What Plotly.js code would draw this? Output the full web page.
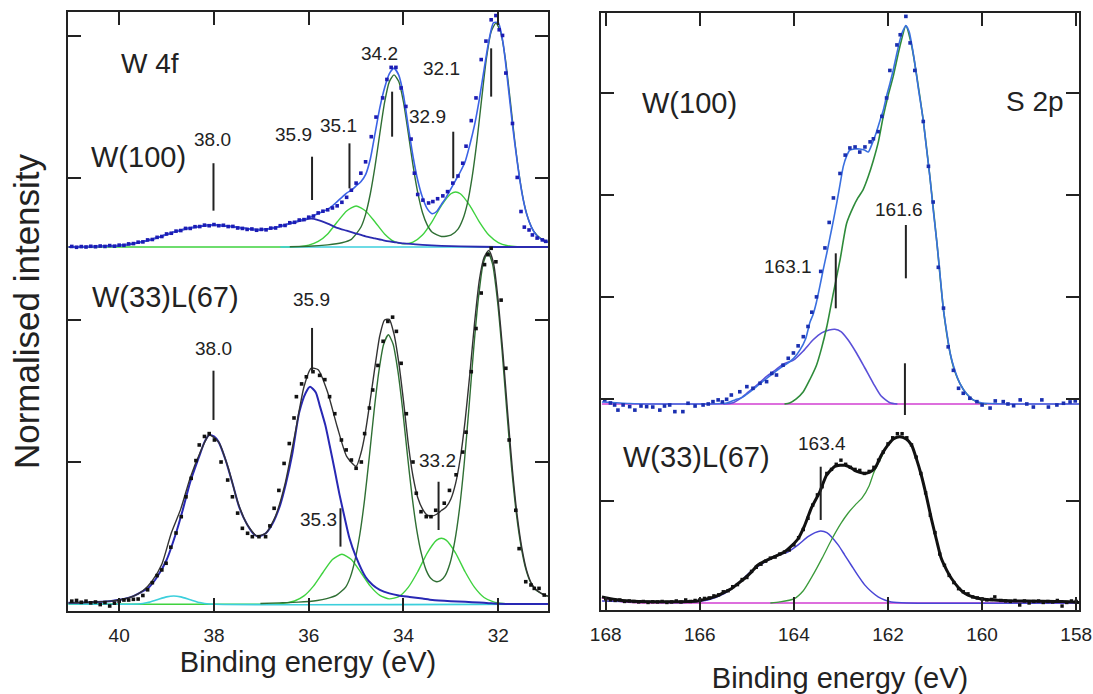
<!DOCTYPE html>
<html><head><meta charset="utf-8">
<script src="https://cdn.plot.ly/plotly-3.0.1.min.js"></script>
<style>html,body{margin:0;padding:0;background:#fff}#g{width:1093px;height:694px}</style>
</head><body><div id="g"></div>
<script>
// ---------------- W 4f, W(100) (values relative to its own baseline) ----------------
const ltDotsX=[41.0,40.9,40.8,40.7,40.6,40.5,40.4,40.3,40.2,40.1,40.0,39.9,39.8,39.7,39.6,39.5,39.4,39.3,39.2,39.1,39.0,38.9,38.8,38.7,38.6,38.5,38.4,38.3,38.2,38.1,38.0,37.9,37.8,37.7,37.6,37.5,37.4,37.3,37.2,37.1,37.0,36.9,36.8,36.7,36.6,36.5,36.4,36.3,36.2,36.1,36.0,35.9,35.8,35.7,35.6,35.5,35.4,35.3,35.2,35.1,35.0,34.9,34.8,34.68,34.58,34.44,34.35,34.26,34.16,34.05,33.95,33.84,33.77,33.7,33.59,33.47,33.38,33.28,33.17,33.07,32.96,32.85,32.75,32.68,32.57,32.47,32.36,32.26,32.15,32.05,31.98,31.91,31.84,31.7,31.6,31.52,31.45,31.35,31.28,31.18,31.07,31.0];
const ltDotsY=[.004,-.002,.003,0,.005,.002,.007,.004,.010,.006,.013,.012,.022,.024,.034,.036,.050,.053,.068,.074,.092,.097,.112,.116,.131,.131,.143,.144,.154,.150,.158,.150,.153,.144,.145,.134,.131,.124,.127,.118,.124,.121,.133,.134,.150,.152,.171,.174,.190,.193,.210,.218,.240,.252,.262,.275,.29,.315,.35,.40,.45,.52,.60,.777,.915,1.05,1.18,1.265,1.265,1.12,.99,.76,.52,.37,.33,.31,.32,.34,.36,.39,.45,.50,.59,.71,.89,1.05,1.32,1.45,1.60,1.63,1.53,1.49,1.225,.87,.49,.25,.14,.12,.085,.063,.05,.04];
const ltEnvX=[41.0,40.9,40.8,40.7,40.6,40.5,40.4,40.3,40.2,40.1,40.0,39.9,39.8,39.7,39.6,39.5,39.4,39.3,39.2,39.1,39.0,38.9,38.8,38.7,38.6,38.5,38.4,38.3,38.2,38.1,38.0,37.9,37.8,37.7,37.6,37.5,37.4,37.3,37.2,37.1,37.0,36.9,36.8,36.7,36.6,36.5,36.4,36.3,36.2,36.1,36.0,35.9,35.8,35.7,35.6,35.5,35.4,35.3,35.2,35.1,35.0,34.9,34.8,34.7,34.6,34.5,34.4,34.3,34.2,34.1,34.0,33.9,33.8,33.7,33.6,33.5,33.4,33.3,33.2,33.1,33.0,32.9,32.8,32.7,32.6,32.5,32.4,32.3,32.2,32.1,32.0,31.9,31.8,31.7,31.6,31.5,31.4,31.3,31.2,31.1,31.0,30.95];
const ltEnvY=[0,0,0,.002,.003,.004,.005,.006,.007,.009,.011,.015,.02,.025,.03,.038,.046,.055,.065,.077,.088,.099,.11,.118,.127,.134,.14,.146,.151,.154,.155,.154,.151,.147,.143,.138,.133,.128,.125,.122,.122,.125,.13,.138,.146,.155,.167,.176,.186,.196,.206,.22,.235,.25,.267,.29,.32,.35,.38,.40,.43,.46,.51,.62,.80,.98,1.12,1.22,1.26,1.21,1.07,.85,.64,.47,.35,.27,.235,.25,.30,.35,.41,.47,.53,.60,.72,.86,1.04,1.25,1.45,1.58,1.58,1.44,1.16,.86,.60,.38,.23,.14,.085,.055,.037,.034];
const ltBlueX=[41.07,40.6,40.2,40.0,39.6,39.2,38.8,38.4,38.0,37.6,37.2,37.0,36.7,36.4,36.1,35.95,35.8,35.6,35.4,35.2,35.0,34.8,34.6,34.4,34.2,34.0,33.6,33.2,32.8,32.0,30.95];
const ltBlueY=[0,.003,.007,.01,.03,.065,.11,.14,.155,.143,.125,.122,.138,.165,.19,.20,.19,.165,.135,.115,.095,.075,.06,.045,.035,.025,.015,.008,.004,0,0];
const ltDarkGreenX=[36.4,36.0,35.6,35.3,35.1,34.9,34.8,34.7,34.6,34.5,34.4,34.3,34.2,34.1,34.0,33.9,33.8,33.7,33.6,33.5,33.4,33.2,33.0,32.85,32.75,32.65,32.55,32.45,32.35,32.25,32.15,32.05,31.95,31.85,31.75,31.65,31.55,31.45,31.35,31.25,31.1,30.95];
const ltDarkGreenY=[.002,.005,.015,.030,.054,.139,.230,.375,.569,.799,1.017,1.163,1.212,1.165,1.021,.804,.576,.384,.243,.156,.106,.074,.083,.126,.193,.309,.496,.746,1.045,1.328,1.516,1.577,1.514,1.325,1.041,.741,.489,.300,.181,.110,.060,.038];
const ltLightGreenX=[41.07,36.4,36.2,36.0,35.8,35.6,35.4,35.2,35.0,34.8,34.6,34.4,34.2,34.0,33.8,33.6,33.4,33.2,33.0,32.9,32.8,32.6,32.4,32.2,32.0,31.8,31.6,30.95];
const ltLightGreenY=[0,0,.003,.013,.039,.092,.176,.254,.289,.254,.176,.092,.039,.022,.034,.084,.177,.292,.375,.387,.375,.292,.177,.084,.031,.009,.002,0];
const ltCyanX=[36.6,30.95];
const ltCyanY=[0,0];

// ---------------- W 4f, W(33)L(67) ----------------
const lbDotsX=[41.0,40.9,40.8,40.7,40.6,40.5,40.4,40.3,40.2,40.1,40.0,39.9,39.8,39.7,39.6,39.5,39.4,39.3,39.2,39.1,39.01,38.91,38.8,38.69,38.59,38.48,38.38,38.31,38.2,38.1,37.99,37.85,37.71,37.61,37.5,37.4,37.29,37.19,37.05,36.91,36.82,36.73,36.63,36.52,36.41,36.31,36.26,36.15,36.05,35.91,35.77,35.66,35.56,35.45,35.31,35.21,35.1,35.0,34.89,34.82,34.72,34.65,34.54,34.43,34.33,34.23,34.15,34.05,33.94,33.8,33.73,33.63,33.52,33.42,33.32,33.14,33.03,32.89,32.75,32.68,32.57,32.47,32.36,32.29,32.22,32.15,32.05,31.94,31.84,31.77,31.63,31.56,31.42,31.31,31.24,31.14,31.03];
const lbDotsY=[.02,.025,.012,.02,.008,.014,-.004,.01,-.014,.006,.02,.028,.028,.033,.035,.06,.10,.15,.20,.24,.287,.40,.50,.615,.755,.885,1.01,1.12,1.18,1.20,1.155,1.0,.873,.755,.64,.533,.498,.474,.474,.474,.55,.674,.80,.99,1.13,1.31,1.46,1.55,1.60,1.636,1.61,1.58,1.46,1.34,1.155,1.085,1.014,.956,1.0,1.20,1.38,1.507,1.68,1.85,1.99,2.02,1.92,1.695,1.34,1.0,.78,.65,.615,.615,.66,.71,.80,.91,1.07,1.21,1.636,1.94,2.19,2.39,2.46,2.505,2.41,2.14,1.66,1.155,.66,.39,.157,.134,.11,.11,.063];
const lbEnvX=[41.07,40.6,40.2,39.9,39.7,39.5,39.3,39.1,38.9,38.7,38.5,38.3,38.1,37.9,37.7,37.5,37.3,37.1,36.9,36.7,36.5,36.3,36.1,35.95,35.8,35.6,35.4,35.2,35.0,34.9,34.8,34.7,34.6,34.5,34.4,34.3,34.2,34.1,34.0,33.9,33.8,33.7,33.6,33.5,33.4,33.3,33.2,33.1,33.0,32.9,32.8,32.7,32.6,32.5,32.4,32.3,32.2,32.1,32.0,31.9,31.8,31.7,31.6,31.5,31.4,31.3,31.2,31.1,31.0,30.95];
const lbEnvY=[.008,.012,.02,.035,.055,.093,.165,.28,.50,.67,.89,1.06,1.19,1.14,.96,.72,.56,.48,.50,.62,.845,1.18,1.53,1.66,1.65,1.49,1.25,1.04,.97,1.06,1.22,1.44,1.675,1.89,2.0,2.005,1.90,1.70,1.43,1.13,.90,.75,.67,.626,.62,.632,.658,.683,.74,.85,1.03,1.29,1.62,1.98,2.28,2.44,2.49,2.40,2.13,1.76,1.34,.94,.62,.39,.235,.145,.10,.077,.06,.055];
const lbBlueX=[41.07,40.6,40.2,39.9,39.7,39.5,39.36,39.2,39.0,38.8,38.66,38.5,38.3,38.2,38.1,38.0,37.9,37.75,37.6,37.47,37.3,37.15,37.05,36.9,36.76,36.6,36.48,36.35,36.2,36.06,35.97,35.85,35.77,35.65,35.56,35.45,35.35,35.25,35.14,35.0,34.8,34.65,34.5,34.3,34.1,33.87,33.6,33.39,33.0,32.7,32.4,32.2,32.0,31.5,30.95];
const lbBlueY=[.008,.012,.02,.035,.055,.09,.122,.19,.31,.50,.66,.86,1.05,1.14,1.19,1.18,1.14,1.01,.84,.685,.56,.49,.475,.50,.568,.70,.85,1.05,1.35,1.49,1.53,1.49,1.40,1.26,1.12,.94,.77,.62,.463,.33,.19,.134,.10,.075,.06,.05,.038,.028,.02,.016,.01,.006,.002,0,0];
const lbDarkGreenX=[37.02,36.62,36.22,35.82,35.62,35.42,35.22,35.12,35.02,34.92,34.82,34.72,34.62,34.52,34.42,34.32,34.22,34.12,34.02,33.92,33.82,33.72,33.62,33.52,33.42,33.32,33.22,33.12,33.02,32.92,32.82,32.72,32.62,32.52,32.42,32.32,32.22,32.12,32.02,31.92,31.82,31.72,31.62,31.52,31.42,31.32,31.22,31.12,31.02,30.95];
const lbDarkGreenY=[.004,.008,.013,.025,.038,.060,.119,.191,.314,.493,.739,1.041,1.362,1.637,1.827,1.896,1.831,1.645,1.375,1.058,.761,.521,.351,.237,.179,.158,.164,.200,.285,.438,.667,.984,1.377,1.793,2.150,2.395,2.48,2.393,2.145,1.785,1.359,.963,.642,.408,.247,.153,.104,.079,.062,.055];
const lbLightGreenX=[41.07,36.7,36.5,36.3,36.1,35.9,35.7,35.5,35.3,35.1,34.9,34.7,34.5,34.3,34.1,33.9,33.7,33.5,33.3,33.2,33.1,32.9,32.7,32.5,32.3,32.1,31.9,31.7,30.95];
const lbLightGreenY=[0,.001,.006,.021,.057,.126,.222,.313,.35,.313,.222,.126,.061,.036,.052,.117,.227,.359,.45,.463,.45,.359,.227,.117,.046,.015,.004,.001,0];
const lbCyanX=[41.07,39.6,39.4,39.2,39.0,38.85,38.7,38.5,38.3,38.1,30.95];
const lbCyanY=[0,0,.01,.03,.05,.056,.05,.03,.01,0,0];

// ---------------- S 2p, W(100) (relative to its own baseline) ----------------
const rtDotsX=[168.02,167.9,167.81,167.74,167.63,167.49,167.38,167.25,167.13,167.0,166.85,166.75,166.64,166.53,166.36,166.25,166.1,165.93,165.82,165.72,165.61,165.52,165.43,165.33,165.15,165.0,164.87,164.72,164.58,164.47,164.37,164.23,164.12,164.01,163.91,163.8,163.7,163.62,163.52,163.43,163.34,163.25,163.16,163.02,162.91,162.81,162.70,162.6,162.49,162.38,162.31,162.21,162.13,162.03,161.96,161.81,161.74,161.62,161.53,161.43,161.25,161.14,161.04,160.93,160.82,160.72,160.61,160.50,160.40,160.26,160.11,160.0,159.83,159.72,159.55,159.45,159.33,159.19,159.05,158.91,158.73,158.59,158.41,158.27,158.13,158.02];
const rtDotsY=[.04,.01,-.01,-.06,-.01,-.026,-.06,-.02,-.026,-.03,-.06,-.02,-.01,-.075,-.075,.007,-.02,-.01,0,.023,.04,.02,.046,.088,.12,.17,.154,.203,.219,.30,.284,.38,.448,.50,.57,.66,.76,.90,1.05,1.30,1.53,1.78,2.02,2.26,2.44,2.51,2.52,2.47,2.52,2.57,2.60,2.67,2.82,3.0,3.27,3.52,3.62,3.80,3.54,3.27,2.77,2.33,1.98,1.34,.94,.56,.33,.154,.105,.056,.023,-.01,-.04,.03,.023,0,-.017,.04,0,-.03,.04,-.03,-.01,.007,.02,.03];
const rtEnvX=[168.08,167.5,167.0,166.5,166.0,165.6,165.43,165.25,165.08,164.9,164.72,164.58,164.44,164.3,164.16,164.0,163.87,163.75,163.66,163.59,163.52,163.45,163.38,163.3,163.23,163.16,163.09,163.02,162.95,162.88,162.81,162.7,162.6,162.5,162.42,162.33,162.25,162.17,162.1,162.03,161.96,161.89,161.82,161.75,161.68,161.62,161.55,161.45,161.35,161.25,161.18,161.11,161.04,160.96,160.89,160.82,160.75,160.68,160.58,160.47,160.33,160.19,160.0,159.5,159.0,158.5,157.94];
const rtEnvY=[.02,.005,0,0,0,.003,.01,.04,.07,.13,.20,.25,.30,.35,.39,.45,.53,.64,.80,.88,1.0,1.15,1.31,1.48,1.64,1.80,1.97,2.15,2.33,2.43,2.49,2.50,2.50,2.49,2.47,2.56,2.66,2.78,2.88,3.02,3.14,3.27,3.42,3.56,3.66,3.71,3.65,3.40,3.08,2.78,2.50,2.23,1.91,1.58,1.25,.92,.70,.50,.33,.20,.10,.04,.01,0,0,0,0];
const rtGreenX=[164.2,164.09,163.95,163.8,163.66,163.52,163.41,163.3,163.16,163.02,162.88,162.74,162.64,162.53,162.42,162.31,162.2,162.1,162.0,161.89,161.75,161.62,161.5,161.4,161.25,161.11,160.96,160.82,160.68,160.58,160.47,160.33,160.19,160.05,159.9];
const rtGreenY=[0,.01,.05,.12,.24,.38,.55,.76,1.09,1.41,1.77,1.93,2.02,2.10,2.23,2.39,2.58,2.82,3.02,3.21,3.50,3.706,3.52,3.25,2.78,2.23,1.58,.92,.50,.32,.20,.10,.04,.01,0];
const rtPurpleX=[165.5,165.29,165.15,165.0,164.8,164.58,164.4,164.23,164.01,163.8,163.59,163.4,163.25,163.13,163.0,162.85,162.67,162.5,162.31,162.15,161.96,161.8];
const rtPurpleY=[0,.013,.05,.105,.18,.27,.33,.39,.43,.52,.63,.70,.725,.732,.71,.63,.50,.36,.20,.08,.013,0];
const rtBaseX=[168.08,157.94];
const rtBaseY=[0,0];

// ---------------- S 2p, W(33)L(67) ----------------
const rbDotsX=[168.0,167.9,167.8,167.7,167.6,167.5,167.4,167.3,167.2,167.1,167.0,166.9,166.8,166.7,166.6,166.5,166.4,166.3,166.2,166.1,166.0,165.9,165.8,165.7,165.6,165.5,165.4,165.3,165.2,165.1,165.0,164.9,164.8,164.7,164.6,164.5,164.4,164.3,164.2,164.1,164.0,163.9,163.8,163.7,163.6,163.5,163.4,163.3,163.2,163.1,163.0,162.9,162.8,162.7,162.6,162.5,162.4,162.3,162.2,162.1,162.0,161.9,161.8,161.7,161.6,161.5,161.4,161.3,161.2,161.1,161.0,160.9,160.8,160.7,160.6,160.5,160.4,160.3,160.2,160.1,160.0,159.9,159.8,159.73,159.6,159.5,159.4,159.3,159.2,159.1,159.0,158.9,158.8,158.7,158.6,158.5,158.4,158.3,158.2,158.1,158.0];
const rbDotsY=[.04,.03,.025,.03,.015,.02,.015,.01,.015,.005,.012,.01,.015,.005,.01,.02,.01,.03,.015,.025,.03,.045,.05,.07,.08,.11,.12,.16,.18,.23,.25,.31,.35,.38,.41,.44,.45,.48,.50,.52,.57,.64,.72,.83,.96,1.06,1.14,1.27,1.31,1.36,1.40,1.36,1.33,1.31,1.30,1.27,1.29,1.33,1.40,1.48,1.56,1.62,1.66,1.66,1.62,1.55,1.43,1.27,1.08,.86,.69,.48,.37,.27,.20,.14,.11,.09,.06,.05,.04,.03,.035,.06,.025,.02,.015,.025,-.02,.02,0,.015,.02,.005,.015,.01,.025,-.03,.005,.02,.015];
const rbEnvX=[168.08,167.8,167.5,167.0,166.5,166.2,166.04,165.85,165.69,165.5,165.33,165.19,165.05,164.91,164.77,164.62,164.48,164.34,164.2,164.05,163.91,163.77,163.63,163.45,163.31,163.2,163.13,163.02,162.92,162.8,162.71,162.6,162.5,162.4,162.28,162.14,162.0,161.88,161.75,161.62,161.5,161.4,161.29,161.18,161.08,160.97,160.87,160.75,160.65,160.5,160.37,160.2,160.01,159.6,159.3,158.8,158.3,157.94];
const rbEnvY=[.06,.035,.02,.013,.013,.015,.02,.04,.06,.10,.14,.19,.24,.30,.37,.41,.44,.47,.50,.56,.63,.76,.93,1.09,1.25,1.31,1.34,1.35,1.35,1.33,1.30,1.28,1.27,1.28,1.32,1.45,1.55,1.61,1.63,1.61,1.55,1.42,1.25,1.04,.83,.62,.44,.32,.24,.15,.095,.06,.04,.025,.02,.018,.015,.005];
const rbGreenX=[164.5,164.3,164.0,163.8,163.6,163.4,163.2,163.0,162.85,162.7,162.55,162.4,162.3,162.15,162.03,161.9,161.75,161.6,161.5,161.4,161.29,161.18,161.08,160.97,160.87,160.75,160.65,160.5,160.37,160.2,160.0,159.5,159.0,158.5,157.94];
const rbGreenY=[0,.01,.04,.12,.27,.44,.62,.78,.88,.96,1.03,1.15,1.28,1.42,1.53,1.60,1.63,1.60,1.55,1.42,1.25,1.04,.83,.62,.44,.32,.24,.15,.095,.06,.04,.025,.02,.015,.005];
const rbPurpleX=[168.08,167.0,166.5,166.2,165.83,165.47,165.19,164.91,164.62,164.34,164.13,163.91,163.7,163.55,163.43,163.3,163.06,162.92,162.78,162.64,162.5,162.35,162.21,162.07,161.93,161.6,157.94];
const rbPurpleY=[.02,.008,.005,.01,.03,.095,.19,.31,.40,.47,.50,.57,.65,.69,.706,.69,.57,.47,.37,.27,.18,.11,.06,.03,.01,0,0];
const rbBaseX=[168.08,167.6,167.2,157.94];
const rbBaseY=[.05,.01,0,0];

// ---------------- peak marker values & labels ----------------
const ltMarkX=[38.01,35.93,35.14,34.24,32.95,32.15];
const ltMarkText=['38.0','35.9','35.1','34.2','32.9','32.1'];
const lbMarkX=[38.01,35.93,35.33,33.26];
const lbMarkText=['38.0','35.9','35.3','33.2'];
const rtMarkX=[161.62,161.64,163.11];
const rtMarkText=['161.6','163.1'];
const rbMarkX=[163.43];
const rbMarkText=['163.4'];
const leftTicks=[40,38,36,34,32];
const rightTicks=[168,166,164,162,160,158];

// ---------------- layout constants ----------------
const LT_OFF=2.514, RT_OFF=1.951;
const shift=(arr,o)=>arr.map(v=>v+o);
const FONT='"Liberation Sans", Arial, sans-serif';
const INK='#222';

function line(x,y,color,w,xa,ya,dash){return {x:x,y:y,type:'scatter',mode:'lines',xaxis:xa,yaxis:ya,
  line:{color:color,width:w,shape:'spline',smoothing:0.6,dash:dash||'solid'},hoverinfo:'skip'};}
function dots(x,y,color,xa,ya,s){return {x:x,y:y,type:'scatter',mode:'markers',xaxis:xa,yaxis:ya,
  marker:{color:color,size:s||3.6,symbol:'square',line:{width:0}},hoverinfo:'skip'};}

const traces=[
  // left top
  line(ltLightGreenX,shift(ltLightGreenY,LT_OFF),'#3fd23f',1.4,'x','y'),
  line(ltCyanX,shift(ltCyanY,LT_OFF),'#3ccfdc',1.6,'x','y'),
  line(ltDarkGreenX,shift(ltDarkGreenY,LT_OFF),'#2f6f34',1.4,'x','y'),
  line(ltBlueX,shift(ltBlueY,LT_OFF),'#2b2bb0',1.8,'x','y'),
  line(ltEnvX,shift(ltEnvY,LT_OFF),'#3b63e6',1.6,'x','y'),
  dots(ltDotsX,shift(ltDotsY,LT_OFF),'#1c1cb4','x','y'),
  // left bottom
  line(lbLightGreenX,lbLightGreenY,'#3fd23f',1.4,'x','y'),
  line(lbCyanX,lbCyanY,'#3ccfdc',1.6,'x','y'),
  line(lbDarkGreenX,lbDarkGreenY,'#2f6f34',1.4,'x','y'),
  line(lbBlueX,lbBlueY,'#2828b4',2,'x','y'),
  line(lbEnvX,lbEnvY,'#333333',1.4,'x','y'),
  dots(lbDotsX,lbDotsY,'#111111','x','y'),
  // right top
  line(rtBaseX,shift(rtBaseY,RT_OFF),'#d23fd2',1.6,'x2','y2'),
  line(rtPurpleX,shift(rtPurpleY,RT_OFF),'#5b50d8',1.6,'x2','y2'),
  line(rtGreenX,shift(rtGreenY,RT_OFF),'#2e8b3a',1.6,'x2','y2'),
  line(rtEnvX,shift(rtEnvY,RT_OFF),'#3a70e0',1.6,'x2','y2'),
  dots(rtDotsX,shift(rtDotsY,RT_OFF),'#1a2fb0','x2','y2'),
  // right bottom
  line(rbBaseX,rbBaseY,'#d23fd2',1.6,'x2','y2'),
  line(rbPurpleX,rbPurpleY,'#4a46d6',1.5,'x2','y2'),
  line(rbGreenX,rbGreenY,'#3a9a3a',1.3,'x2','y2'),
  line(rbEnvX,rbEnvY,'#111111',3,'x2','y2'),
  dots(rbDotsX,rbDotsY,'#111111','x2','y2',3.4)
];

// marker line geometry (data coordinates)
const ltMarkSpan=[[2.770,3.104],[2.845,3.150],[2.927,3.244],[3.291,3.608],[2.998,3.326],[3.573,3.913]];
const lbMarkSpan=[[1.296,1.643],[1.636,1.944],[0.404,0.674],[0.521,0.861]];
const rtMarkSpan=[[3.183,3.706],[1.843,2.350],[2.889,3.428]];
const rbMarkSpan=[[0.814,1.336]];
const shapes=[];
function addMarks(xs,spans,xr,yr){xs.forEach((x,i)=>shapes.push({type:'line',xref:xr,yref:yr,x0:x,x1:x,y0:spans[i][0],y1:spans[i][1],line:{color:INK,width:2}}));}
addMarks(ltMarkX,ltMarkSpan,'x','y');
addMarks(lbMarkX,lbMarkSpan,'x','y');
addMarks(rtMarkX,rtMarkSpan,'x2','y2');
addMarks(rbMarkX,rbMarkSpan,'x2','y2');

// label positions
const ltLabPos=[[38.04,3.268],[36.33,3.303],[35.37,3.373],[34.51,3.878],[33.49,3.432],[33.19,3.772]];
const lbLabPos=[[38.01,1.80],[35.94,2.141],[35.80,0.592],[33.28,1.014]];
const rtLabPos=[[161.76,3.853],[164.12,3.297]];
const rbLabPos=[[163.40,1.566]];
const annotations=[];
function lab(text,x,y,xr,yr,size){annotations.push({text:text,x:x,y:y,xref:xr,yref:yr,showarrow:false,
  xanchor:'center',yanchor:'middle',font:{family:FONT,size:size,color:INK}});}
ltMarkText.forEach((t,i)=>lab(t,ltLabPos[i][0],ltLabPos[i][1],'x','y',19));
lbMarkText.forEach((t,i)=>lab(t,lbLabPos[i][0],lbLabPos[i][1],'x','y',19));
rtMarkText.forEach((t,i)=>lab(t,rtLabPos[i][0],rtLabPos[i][1],'x2','y2',19));
rbMarkText.forEach((t,i)=>lab(t,rbLabPos[i][0],rbLabPos[i][1],'x2','y2',19));
lab('W 4f',39.35,3.808,'x','y',28);
lab('W(100)',39.59,3.15,'x','y',29);
lab('W(33)L(67)',39.03,2.164,'x','y',29);
lab('W(100)',166.21,4.90,'x2','y2',29);
lab('S 2p',158.87,4.915,'x2','y2',28);
lab('W(33)L(67)',166.07,1.434,'x2','y2',29);

const axCommon={showline:true,linecolor:INK,linewidth:2,mirror:'ticks',ticks:'inside',ticklen:13,tickwidth:2,
  tickcolor:INK,showgrid:false,zeroline:false,automargin:false,fixedrange:true};
const layout={
  width:1093,height:694,margin:{l:68,r:14,t:12,b:83},
  paper_bgcolor:'#ffffff',plot_bgcolor:'#ffffff',showlegend:false,
  font:{family:FONT,color:INK},
  xaxis:Object.assign({},axCommon,{domain:[0,0.4748],range:[41.08,30.95],tickvals:leftTicks,
    ticktext:leftTicks.map(String),tickfont:{size:19,family:FONT,color:INK},ticklabelstandoff:6,anchor:'y',
    title:{text:'Binding energy (eV)',font:{size:29,family:FONT,color:INK},standoff:5}}),
  yaxis:Object.assign({},axCommon,{domain:[0,1],range:[-0.0493,4.169],tickvals:[1,2,3,4],showticklabels:false,anchor:'x',
    title:{text:'Normalised intensity',font:{size:35,family:FONT,color:INK},standoff:16}}),
  xaxis2:Object.assign({},axCommon,{domain:[0.5272,1],range:[168.1,157.94],tickvals:rightTicks,
    ticktext:rightTicks.map(String),tickfont:{size:19,family:FONT,color:INK},ticklabelstandoff:6,anchor:'y2',
    title:{text:'Binding energy (eV)',font:{size:29,family:FONT,color:INK},standoff:26}}),
  yaxis2:Object.assign({},axCommon,{domain:[0.0017,0.9983],range:[-0.0686,5.784],tickvals:[1,2,3,4,5],showticklabels:false,anchor:'x2'}),
  shapes:shapes,annotations:annotations
};
Plotly.newPlot('g',traces,layout,{staticPlot:true,displayModeBar:false});
</script></body></html>
